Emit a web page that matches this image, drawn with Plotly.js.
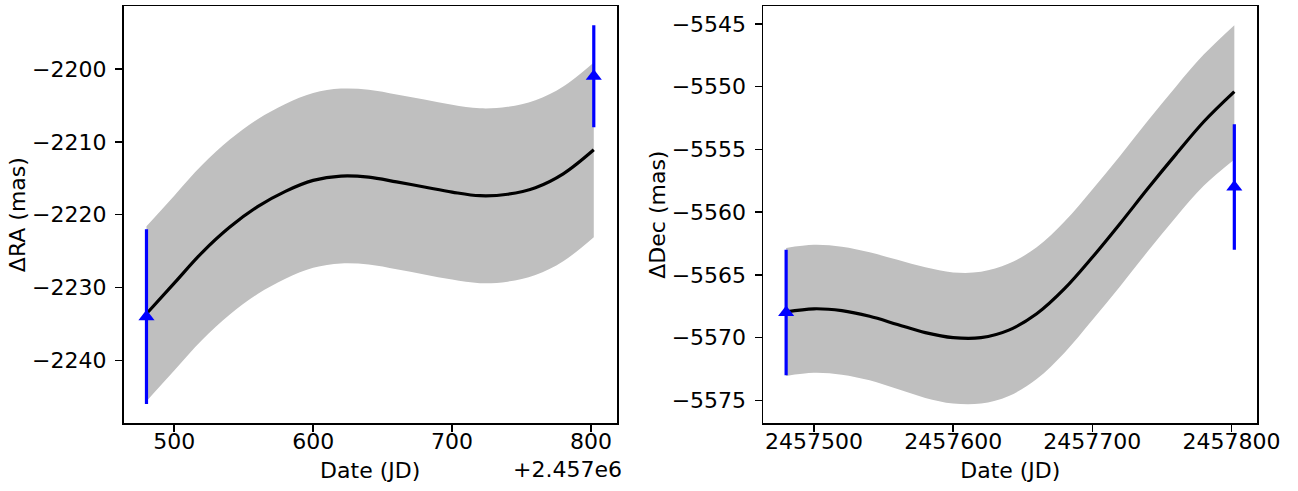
<!DOCTYPE html>
<html>
<head>
<meta charset="utf-8">
<script src="https://cdn.plot.ly/plotly-3.0.1.min.js"></script>
<style>html,body{margin:0;padding:0;background:#fff;}#chart{width:1298px;height:491px;}</style>
</head>
<body>
<div id="chart"></div>
<script>
// Sample dates (JD)
const jd = [2457480, 2457500, 2457520, 2457540, 2457560, 2457580, 2457600, 2457620, 2457640,
            2457660, 2457680, 2457700, 2457720, 2457740, 2457760, 2457780, 2457802];

// ΔRA model (mas)
const raModel = [-2233.6, -2229.4, -2225.2, -2221.7, -2218.9, -2216.8, -2215.3, -2214.7, -2214.85,
                 -2215.5, -2216.2, -2216.9, -2217.4, -2217.2, -2216.3, -2214.4, -2211.1];
const raUpper = [-2221.6, -2217.4, -2213.2, -2209.7, -2206.9, -2204.8, -2203.3, -2202.7, -2202.85,
                 -2203.5, -2204.2, -2204.9, -2205.4, -2205.2, -2204.3, -2202.4, -2199.1];
const raLower = [-2245.6, -2241.4, -2237.2, -2233.7, -2230.9, -2228.8, -2227.3, -2226.7, -2226.85,
                 -2227.5, -2228.2, -2228.9, -2229.4, -2229.2, -2228.3, -2226.4, -2223.1];

// ΔDec model (mas)
const decModel = [-5567.95, -5567.7, -5567.85, -5568.3, -5568.95, -5569.6, -5570.0, -5570.0, -5569.4,
                  -5568.1, -5566.1, -5563.6, -5560.9, -5558.1, -5555.4, -5552.8, -5550.4];
const decUpper = [-5562.85, -5562.6, -5562.75, -5563.2, -5563.8, -5564.4, -5564.8, -5564.75, -5564.1,
                  -5562.8, -5560.75, -5558.2, -5555.5, -5552.7, -5550.0, -5547.45, -5545.1];
const decLower = [-5573.05, -5572.8, -5572.95, -5573.4, -5574.1, -5574.8, -5575.25, -5575.25, -5574.65,
                  -5573.3, -5571.2, -5568.6, -5565.9, -5563.1, -5560.4, -5557.9, -5555.8];

// Observations
const obsJD = [2457480, 2457802];
const obsRA = [-2234, -2201];
const obsRAerr = [12, 7];
const obsDec = [-5568, -5558];
const obsDecErr = [5, 5];

// Tick labels
const xTickVals = [2457500, 2457600, 2457700, 2457800];
const xTickTextLeft = ['500', '600', '700', '800'];
const xTickTextRight = ['2457500', '2457600', '2457700', '2457800'];
const raTickVals = [-2200, -2210, -2220, -2230, -2240];
const raTickText = ['\u22122200', '\u22122210', '\u22122220', '\u22122230', '\u22122240'];
const decTickVals = [-5545, -5550, -5555, -5560, -5565, -5570, -5575];
const decTickText = ['\u22125545', '\u22125550', '\u22125555', '\u22125560', '\u22125565', '\u22125570', '\u22125575'];
const xOffsetLabel = '+2.457e6';

const BAND = '#bfbfbf';
const BLUE = '#0000ff';

function bandTraces(lower, upper, xa, ya) {
  return [
    {x: jd, y: lower, xaxis: xa, yaxis: ya, mode: 'lines', line: {width: 0, shape: 'spline', color: BAND},
     hoverinfo: 'skip', showlegend: false},
    {x: jd, y: upper, xaxis: xa, yaxis: ya, mode: 'lines', line: {width: 0, shape: 'spline', color: BAND},
     fill: 'tonexty', fillcolor: BAND, hoverinfo: 'skip', showlegend: false}
  ];
}

const traces = [
  ...bandTraces(raLower, raUpper, 'x', 'y'),
  {x: jd, y: raModel, xaxis: 'x', yaxis: 'y', mode: 'lines', line: {color: '#000', width: 3.2, shape: 'spline'}, showlegend: false},
  {x: obsJD, y: obsRA, xaxis: 'x', yaxis: 'y', mode: 'markers',
   marker: {symbol: 'triangle-up', size: 14, color: BLUE},
   error_y: {type: 'data', array: obsRAerr, visible: true, color: BLUE, thickness: 3.2, width: 0}, showlegend: false},
  ...bandTraces(decLower, decUpper, 'x2', 'y2'),
  {x: jd, y: decModel, xaxis: 'x2', yaxis: 'y2', mode: 'lines', line: {color: '#000', width: 3.2, shape: 'spline'}, showlegend: false},
  {x: obsJD, y: obsDec, xaxis: 'x2', yaxis: 'y2', mode: 'markers',
   marker: {symbol: 'triangle-up', size: 14, color: BLUE},
   error_y: {type: 'data', array: obsDecErr, visible: true, color: BLUE, thickness: 3.2, width: 0}, showlegend: false}
];

const axCommon = {
  showline: true, mirror: true, linecolor: '#000', linewidth: 1.8,
  ticks: 'outside', ticklen: 7, tickwidth: 1.6, tickcolor: '#000',
  showgrid: false, zeroline: false, tickfont: {size: 22, color: '#000'}
};

const W = 1298, H = 491;
const yDom = [(H - 423) / H, (H - 6.3) / H];

const layout = {
  width: W, height: H,
  margin: {l: 0, r: 0, t: 0, b: 0},
  paper_bgcolor: '#fff', plot_bgcolor: '#fff',
  font: {family: 'DejaVu Sans', size: 22, color: '#000'},
  showlegend: false,
  xaxis: Object.assign({}, axCommon, {
    domain: [123.7 / W, 616.7 / W], range: [2457463.6, 2457818.5], anchor: 'y',
    tickvals: xTickVals, ticktext: xTickTextLeft, ticklabelstandoff: -9,
    title: {text: 'Date (JD)', standoff: 9, font: {size: 22}}
  }),
  yaxis: Object.assign({}, axCommon, {
    domain: yDom, range: [-2248.6, -2191.4], anchor: 'x',
    tickvals: raTickVals, ticktext: raTickText, ticklabelstandoff: 4,
    title: {text: '\u0394RA (mas)', standoff: 0, font: {size: 22}}
  }),
  xaxis2: Object.assign({}, axCommon, {
    domain: [763.3 / W, 1257.3 / W], range: [2457463.6, 2457818.5], anchor: 'y2',
    tickvals: xTickVals, ticktext: xTickTextRight, ticklabelstandoff: -9,
    title: {text: 'Date (JD)', standoff: 9, font: {size: 22}}
  }),
  yaxis2: Object.assign({}, axCommon, {
    domain: yDom, range: [-5576.8, -5543.6], anchor: 'x2',
    tickvals: decTickVals, ticktext: decTickText, ticklabelstandoff: 4,
    title: {text: '\u0394Dec (mas)', standoff: 0, font: {size: 22}}
  }),
  annotations: [
    {text: xOffsetLabel, xref: 'paper', yref: 'paper', x: 624 / W, y: (H - 469) / H,
     xanchor: 'right', yanchor: 'middle', showarrow: false, font: {size: 22, color: '#000'}}
  ]
};

Plotly.newPlot('chart', traces, layout, {staticPlot: true, displayModeBar: false});
</script>
</body>
</html>
